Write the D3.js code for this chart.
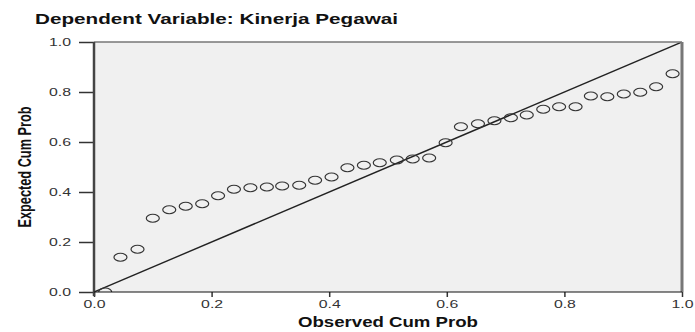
<!DOCTYPE html>
<html><head><meta charset="utf-8">
<script src="https://cdn.jsdelivr.net/npm/d3@7"></script>
<style>body{margin:0;background:#fff}svg{display:block}</style>
</head><body>
<svg id="c" width="695" height="332"></svg>
<script>
const title = "Dependent Variable: Kinerja Pegawai";
const xLabel = "Observed Cum Prob";
const yLabel = "Expected Cum Prob";
const tickValues = [0, 0.2, 0.4, 0.6, 0.8, 1.0];
const observed = [0.019,0.045,0.074,0.100,0.128,0.156,0.184,0.211,0.238,0.266,0.294,0.320,0.349,0.376,0.404,0.431,0.459,0.486,0.515,0.542,0.570,0.598,0.624,0.653,0.681,0.709,0.736,0.764,0.791,0.819,0.845,0.873,0.901,0.929,0.956,0.984];
const expected = [0.000,0.139,0.171,0.295,0.329,0.343,0.353,0.385,0.411,0.417,0.420,0.424,0.427,0.447,0.460,0.497,0.507,0.517,0.528,0.532,0.536,0.597,0.661,0.673,0.685,0.697,0.708,0.731,0.741,0.741,0.784,0.781,0.792,0.799,0.821,0.873];

const svg = d3.select("#c");
const L = 94, R = 682, T = 42, B = 292;
const x = d3.scaleLinear().domain([0,1]).range([L,R]);
const y = d3.scaleLinear().domain([0,1]).range([B,T]);

svg.append("rect").attr("x",L).attr("y",T).attr("width",R-L).attr("height",B-T).attr("fill","#f0f0f0");
svg.append("clipPath").attr("id","pc").append("rect").attr("x",L).attr("y",T).attr("width",R-L).attr("height",B-T);

const g = svg.append("g").attr("clip-path","url(#pc)");
g.append("line").attr("x1",x(0)).attr("y1",y(0)).attr("x2",x(1)).attr("y2",y(1))
  .attr("stroke","#222").attr("stroke-width",1.4);
const pts = observed.map((v,i)=>({o:v,e:expected[i]}));
g.selectAll("ellipse").data(pts).enter().append("ellipse")
  .attr("cx",d=>x(d.o)).attr("cy",d=>y(d.e)).attr("rx",6.5).attr("ry",4)
  .attr("fill","none").attr("stroke","#333").attr("stroke-width",1.2);

svg.append("line").attr("x1",L).attr("x2",R).attr("y1",T).attr("y2",T).attr("stroke","#777").attr("stroke-width",1.5);
svg.append("line").attr("x1",R).attr("x2",R).attr("y1",T).attr("y2",B).attr("stroke","#777").attr("stroke-width",3);

const yAxis = d3.axisLeft(y).tickValues(tickValues).tickFormat(d3.format(".1f")).tickSize(15).tickPadding(8);
const yg = svg.append("g").attr("transform",`translate(${L},0)`).call(yAxis);
const xAxis = d3.axisBottom(x).tickValues(tickValues).tickFormat(d3.format(".1f")).tickSize(5).tickPadding(4);
const xg = svg.append("g").attr("transform",`translate(0,${B})`).call(xAxis);
[yg,xg].forEach(a=>{
  a.select(".domain").remove();
  a.selectAll(".tick line").attr("stroke","#333").attr("stroke-width",1.5);
  a.selectAll(".tick text").attr("font-family","Liberation Sans, Arial, sans-serif")
   .attr("font-size",10).attr("fill","#333")
   .attr("textLength",22).attr("lengthAdjust","spacingAndGlyphs");
});
svg.append("line").attr("x1",L).attr("x2",L).attr("y1",T).attr("y2",B+4).attr("stroke","#444").attr("stroke-width",2.5);
svg.append("line").attr("x1",L).attr("x2",R).attr("y1",B).attr("y2",B).attr("stroke","#111").attr("stroke-width",1.2);

svg.append("text").attr("x",35).attr("y",24).text(title)
  .attr("font-family","Liberation Sans, Arial, sans-serif").attr("font-weight","bold").attr("font-size",15)
  .attr("textLength",363).attr("lengthAdjust","spacingAndGlyphs").attr("fill","#111");
svg.append("text").attr("x",388).attr("y",327).attr("text-anchor","middle").text(xLabel)
  .attr("font-family","Liberation Sans, Arial, sans-serif").attr("font-weight","bold").attr("font-size",15)
  .attr("textLength",180).attr("lengthAdjust","spacingAndGlyphs").attr("fill","#111");
svg.append("text").attr("transform","translate(31,167) rotate(-90)").attr("text-anchor","middle").text(yLabel)
  .attr("font-family","Liberation Sans Narrow, Arial Narrow, sans-serif").attr("font-weight","bold").attr("font-size",18)
  .attr("textLength",121).attr("lengthAdjust","spacingAndGlyphs").attr("fill","#111");
</script>
</body></html>
